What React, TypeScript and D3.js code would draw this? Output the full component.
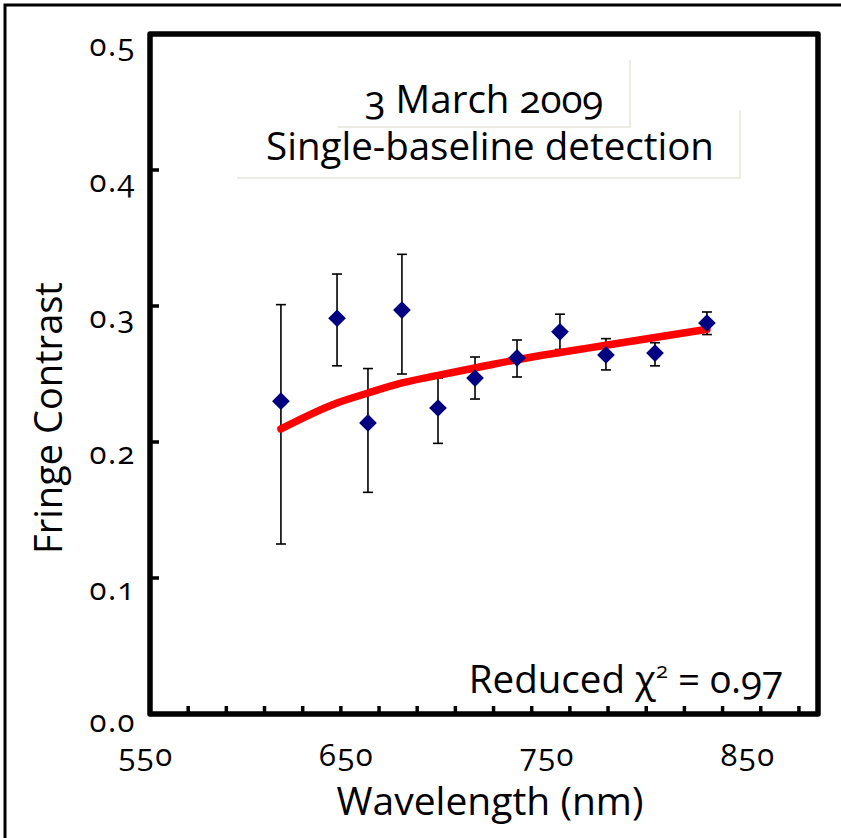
import React from "react";
import * as d3 from "d3";

const wavelengths = [618.6, 648.0, 664.2, 682.0, 700.9, 720.3, 742.3, 764.8, 788.9, 814.6, 841.8];
const contrast = [0.230, 0.291, 0.214, 0.297, 0.225, 0.247, 0.2618, 0.281, 0.264, 0.2654, 0.2875];
const errLow = [0.125, 0.256, 0.163, 0.250, 0.199, 0.2316, 0.2478, 0.268, 0.253, 0.256, 0.279];
const errHigh = [0.301, 0.3235, 0.254, 0.338, 0.247, 0.2625, 0.275, 0.294, 0.276, 0.273, 0.2956];
const fitValues = [0.2096, 0.2287, 0.236, 0.2434, 0.249, 0.2544, 0.2605, 0.2658, 0.2711, 0.2768, 0.2829];
const yTicks = [0.0, 0.1, 0.2, 0.3, 0.4, 0.5];
const xTickLabels = [550, 650, 750, 850];
const xMinorTicks = [570, 590, 610, 630, 650, 670, 690, 710, 730, 750, 770, 790, 810, 830, 850, 870, 890];

const W = 841;
const H = 838;
const box = { left: 150, right: 818, top: 34, bottom: 714 };
const FONT = "'Open Sans', 'Lato', sans-serif";

export default function App() {
  const x = d3.scaleLinear().domain([550, 900]).range([box.left, box.right]);
  const xLabel = d3.scaleLinear().domain([550, 850]).range([146, 748]);
  const y = d3.scaleLinear().domain([0, 0.5]).range([box.bottom, box.top]);

  const fitLine = d3
    .line<number>()
    .x((_, i) => x(wavelengths[i]))
    .y((d) => y(d))
    .curve(d3.curveMonotoneX)(fitValues) as string;

  const diamond = d3.symbol().type(d3.symbolDiamond2).size(200)() as string;
  const cap = 5;
  const numStyle: React.CSSProperties = { fontVariantNumeric: "oldstyle-nums" };

  return (
    <svg
      width={W}
      height={H}
      viewBox={`0 0 ${W} ${H}`}
      style={{ position: "absolute", left: 0, top: 0, background: "#fff" }}
      fontFamily={FONT}
    >
      <rect x={0} y={0} width={W} height={H} fill="#fff" />
      {/* outer frame */}
      <path d={`M5,${H} L5,5 L${W},5`} fill="none" stroke="#000" strokeWidth={3} />

      {/* title boxes shadows */}
      <path d="M338,127 L630,127 L630,60" fill="none" stroke="#ecebe4" strokeWidth={2} />
      <path d="M237,178 L740,178 L740,110" fill="none" stroke="#ecebe4" strokeWidth={2} />
      <text x={484} y={113} textAnchor="middle" fontSize={38.5} fill="#000" style={numStyle}>
        3 March 2009
      </text>
      <text x={490} y={160} textAnchor="middle" fontSize={38.5} fill="#000">
        Single-baseline detection
      </text>

      {/* error bars */}
      {wavelengths.map((w, i) => (
        <g key={"e" + i} stroke="#000" strokeWidth={1.6}>
          <line x1={x(w)} x2={x(w)} y1={y(errLow[i])} y2={y(errHigh[i])} />
          <line x1={x(w) - cap} x2={x(w) + cap} y1={y(errLow[i])} y2={y(errLow[i])} />
          <line x1={x(w) - cap} x2={x(w) + cap} y1={y(errHigh[i])} y2={y(errHigh[i])} />
        </g>
      ))}

      {/* fit line */}
      <path d={fitLine} fill="none" stroke="#ff0000" strokeWidth={7.5} strokeLinecap="round" strokeLinejoin="round" />

      {/* points */}
      {wavelengths.map((w, i) => (
        <path key={"p" + i} d={diamond} transform={`translate(${x(w)},${y(contrast[i])})`} fill="#000080" />
      ))}

      {/* plot box */}
      <rect
        x={box.left}
        y={box.top}
        width={box.right - box.left}
        height={box.bottom - box.top}
        fill="none"
        stroke="#000"
        strokeWidth={5.5}
        strokeLinejoin="round"
      />

      {/* y ticks */}
      {yTicks.map((t) => (
        <g key={"y" + t}>
          {t > 0 && t < 0.5 && (
            <line x1={box.left} x2={box.left + 9} y1={y(t)} y2={y(t)} stroke="#000" strokeWidth={3.5} />
          )}
          <text
            x={136}
            y={y(t) + (t === 0 ? 18 : 22)}
            textAnchor="end"
            fontSize={31}
            letterSpacing={1.5}
            fill="#000"
            style={numStyle}
          >
            {t.toFixed(1)}
          </text>
        </g>
      ))}

      {/* x minor ticks */}
      {xMinorTicks.map((t) => (
        <line key={"xt" + t} x1={x(t)} x2={x(t)} y1={box.bottom} y2={box.bottom - 8} stroke="#000" strokeWidth={3.5} />
      ))}
      {xTickLabels.map((t) => (
        <text
          key={"xl" + t}
          x={xLabel(t)}
          y={766}
          textAnchor="middle"
          fontSize={31}
          letterSpacing={1.5}
          fill="#000"
          style={numStyle}
        >
          {t}
        </text>
      ))}

      {/* axis titles */}
      <text x={490} y={815} textAnchor="middle" fontSize={39} fill="#000">
        Wavelength (nm)
      </text>
      <text transform={`translate(62,${418}) rotate(-90)`} textAnchor="middle" fontSize={38} fill="#000">
        Fringe Contrast
      </text>

      {/* chi-square annotation */}
      <text x={783} y={693} textAnchor="end" fontSize={38.5} fill="#000" style={numStyle}>
        Reduced χ<tspan dy={-15} fontSize={22}>2</tspan>
        <tspan dy={15}> = 0.97</tspan>
      </text>
    </svg>
  );
}
